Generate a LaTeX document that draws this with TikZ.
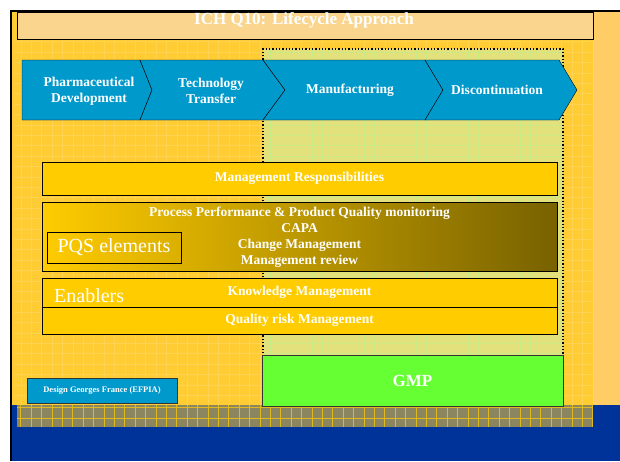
\documentclass[tikz,border=0pt]{standalone}
\usepackage{fontspec}
\setmainfont{Liberation Serif}
\usetikzlibrary{positioning}
\definecolor{ICH1}{HTML}{FFCC33}
\definecolor{ICH2}{HTML}{FFCC66}
\definecolor{ICH3}{HTML}{F9D58E}
\definecolor{ICH4}{HTML}{E2E17C}
\definecolor{ICH5}{HTML}{0099CC}
\definecolor{ICH6}{HTML}{FFCC00}
\definecolor{ICH7}{HTML}{786200}
\definecolor{ICH8}{HTML}{66FF33}
\definecolor{ICH9}{HTML}{003399}
\definecolor{ICH10}{HTML}{8C8660}
\tikzstyle{phase} = [draw=black, fill=ICH5]
\tikzstyle{phasetext} = [text=white, align=center, font=\bfseries\fontsize{13.5}{16}\selectfont]
\tikzstyle{band} = [rectangle, minimum width=515pt, inner sep=0pt, text centered, draw=black, fill=ICH6, text=white, align=center, font=\bfseries\fontsize{13.5}{16}\selectfont]
\tikzstyle{bigtext} = [text=white, font=\fontsize{20}{24}\selectfont]

\begin{document}
\begin{tikzpicture}[x=1pt, y=-1pt, node distance=0pt]
\useasboundingbox (0,0) rectangle (620,461);

% background
\fill[ICH1] (12,12) rectangle (593,405);
\fill[ICH2] (593,12) rectangle (620,405);
\draw[white, opacity=0.15, step=10.4pt] (14,41) grid (593,405);
\fill[ICH9] (12,405) rectangle (620,461);
\fill[ICH10] (17,405) rectangle (593,427);
\draw[ICH6!75!gray, line width=0.7pt, xstep=10.4pt, ystep=11pt] (17,405) grid (593,427);
\draw[black, line width=2.5pt] (11.2,461) -- (11.2,11.2) -- (620,11.2);

% title
\draw[fill=ICH3] (17,12) rectangle (593,39);
\node (title) at (304,20) [text=white, font=\bfseries\fontsize{17}{20}\selectfont] {ICH Q10: Lifecycle Approach};

% manufacturing zone
\fill[ICH4] (263,49) rectangle (563,406);
\draw[white!60!green, opacity=0.3, step=10.4pt] (263,49) grid (563,406);
\draw[dotted, line width=1.3pt] (263,406) -- (263,49) -- (563,49) -- (563,406);

% lifecycle phases
\draw[phase] (22,60) -- (140,60) -- (152,90) -- (140,120) -- (22,120) -- cycle;
\draw[phase] (140,60) -- (263,60) -- (285,90) -- (263,120) -- (140,120) -- (152,90) -- cycle;
\draw[phase] (263,60) -- (425,60) -- (443,90) -- (425,120) -- (263,120) -- (285,90) -- cycle;
\draw[phase] (425,60) -- (559,60) -- (577,90) -- (559,120) -- (425,120) -- (443,90) -- cycle;

\node (pd) [phasetext] at (89,91) {Pharmaceutical\\Development};
\node (tt) [phasetext] at (211,91) {Technology\\Transfer};
\node (mf) [phasetext] at (350,90) {Manufacturing};
\node (dc) [phasetext] at (497,90) {Discontinuation};

% PQS
\node (mr) [band, minimum height=33pt] at (299.5,178.5) {Management Responsibilities};
\node (pqs) [band, minimum height=69pt, below=7pt of mr, left color=ICH6, right color=ICH7]
  {Process Performance \& Product Quality monitoring\\CAPA\\Change Management\\Management review};
\node (pqsel) [draw=black, minimum width=134pt, minimum height=31pt, inner sep=0pt, bigtext] at (114,247.5) {PQS elements};
\node (km) [band, minimum height=29pt, below=6pt of pqs] {Knowledge Management};
\node (qrm) [band, minimum height=27pt, below=0pt of km] {Quality risk Management};
\node (en) [bigtext, anchor=base west, inner sep=0pt] at (54,302) {Enablers};

% GMP and credit
\node (gmp) [draw=black!80, fill=ICH8, minimum width=301pt, minimum height=51pt, text=white, font=\bfseries\fontsize{17}{20}\selectfont] at (412.5,380.5) {GMP};
\node (dg) [draw=black!80, fill=ICH5, minimum width=150pt, minimum height=25pt, text=white, font=\bfseries\fontsize{8.5}{10}\selectfont] at (102,390.5) {Design Georges France (EFPIA)};

\end{tikzpicture}
\end{document}
